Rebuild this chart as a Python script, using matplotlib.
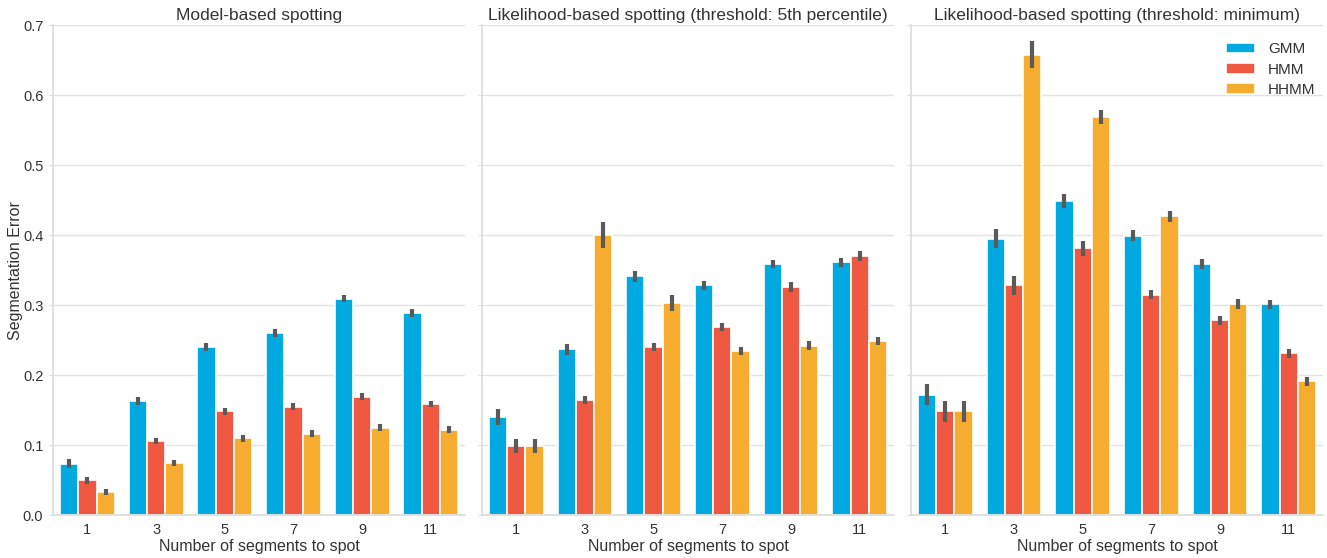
import numpy as np
import matplotlib
matplotlib.use('Agg')
import matplotlib.pyplot as plt

segmentos = ['1', '3', '5', '7', '9', '11']
modelos = ['GMM', 'HMM', 'HHMM']
colores = ['#00A9E0', '#EF5841', '#F6AC2E']

titulos = ['Model-based spotting',
           'Likelihood-based spotting (threshold: 5th percentile)',
           'Likelihood-based spotting (threshold: minimum)']

# Model-based spotting
gmm_modelo = [0.073, 0.163, 0.240, 0.260, 0.309, 0.289]
hmm_modelo = [0.050, 0.106, 0.148, 0.155, 0.169, 0.159]
hhmm_modelo = [0.033, 0.074, 0.110, 0.116, 0.125, 0.122]
gmm_modelo_err = [0.0065, 0.006, 0.006, 0.006, 0.005, 0.006]
hmm_modelo_err = [0.005, 0.004, 0.005, 0.005, 0.005, 0.004]
hhmm_modelo_err = [0.004, 0.004, 0.005, 0.005, 0.005, 0.005]

# Likelihood-based, 5th percentile
gmm_p5 = [0.140, 0.237, 0.341, 0.328, 0.359, 0.361]
hmm_p5 = [0.099, 0.164, 0.240, 0.269, 0.326, 0.370]
hhmm_p5 = [0.099, 0.400, 0.303, 0.234, 0.242, 0.249]
gmm_p5_err = [0.012, 0.008, 0.008, 0.007, 0.006, 0.006]
hmm_p5_err = [0.010, 0.006, 0.006, 0.006, 0.007, 0.007]
hhmm_p5_err = [0.010, 0.019, 0.012, 0.006, 0.006, 0.006]

# Likelihood-based, minimum
gmm_min = [0.172, 0.395, 0.449, 0.399, 0.359, 0.301]
hmm_min = [0.148, 0.328, 0.381, 0.315, 0.278, 0.231]
hhmm_min = [0.148, 0.658, 0.568, 0.427, 0.302, 0.191]
gmm_min_err = [0.015, 0.014, 0.010, 0.008, 0.007, 0.006]
hmm_min_err = [0.015, 0.013, 0.011, 0.007, 0.006, 0.006]
hhmm_min_err = [0.015, 0.019, 0.010, 0.008, 0.007, 0.006]

paneles = [
    ([gmm_modelo, hmm_modelo, hhmm_modelo], [gmm_modelo_err, hmm_modelo_err, hhmm_modelo_err]),
    ([gmm_p5, hmm_p5, hhmm_p5], [gmm_p5_err, hmm_p5_err, hhmm_p5_err]),
    ([gmm_min, hmm_min, hhmm_min], [gmm_min_err, hmm_min_err, hhmm_min_err]),
]

plt.rcParams['font.family'] = ['Liberation Sans', 'DejaVu Sans']

fig = plt.figure(figsize=(13.27, 5.58), dpi=100)
izquierdas = [0.040, 0.3632, 0.6865]
x = np.arange(len(segmentos))
ancho = 0.8 / 3

ejes = []
for i, (valores, errores) in enumerate(paneles):
    ax = fig.add_axes([izquierdas[i], 0.077, 0.3105, 0.878])
    ejes.append(ax)
    ax.set_axisbelow(True)
    for j in range(3):
        pos = x - 0.4 + ancho * (j + 0.5)
        ax.bar(pos, valores[j], ancho, color=colores[j], edgecolor='white',
               linewidth=1.2, label=modelos[j])
        ax.errorbar(pos, valores[j], yerr=errores[j], fmt='none',
                    ecolor='#5a5a5a', elinewidth=3, capsize=0)
    ax.set_xlim(-0.5, 5.5)
    ax.set_ylim(0, 0.7)
    ax.set_yticks(np.arange(0, 0.71, 0.1))
    ax.set_xticks(x)
    ax.set_xticklabels(segmentos)
    ax.grid(True, axis='y', color='#e3e3e3', linewidth=1)
    for lado in ['top', 'right']:
        ax.spines[lado].set_visible(False)
    for lado in ['left', 'bottom']:
        ax.spines[lado].set_color('#dcdcdc')
        ax.spines[lado].set_linewidth(1.2)
    ax.tick_params(axis='both', colors='#dcdcdc', labelcolor='#333333',
                   labelsize=10.5, length=3)
    ax.tick_params(axis='y', pad=4)
    ax.tick_params(axis='x', length=0, pad=6)
    ax.set_xlabel('Number of segments to spot', fontsize=11.5, color='#333333', labelpad=1)
    ax.set_title(titulos[i], fontsize=12.5, color='#333333', pad=4)
    if i == 0:
        ax.set_yticklabels(['0.0', '0.1', '0.2', '0.3', '0.4', '0.5', '0.6', '0.7'])
        ax.set_ylabel('Segmentation Error', fontsize=11.5, color='#333333', labelpad=0)
    else:
        ax.set_yticklabels([])

leg = ejes[2].legend(loc='upper right', bbox_to_anchor=(1.012, 0.99), frameon=False,
                     fontsize=11, handlelength=1.9, handleheight=0.7,
                     labelspacing=0.42, handletextpad=0.85, borderaxespad=0.4)
for t in leg.get_texts():
    t.set_color('#333333')

plt.savefig('out.png', dpi=100)
